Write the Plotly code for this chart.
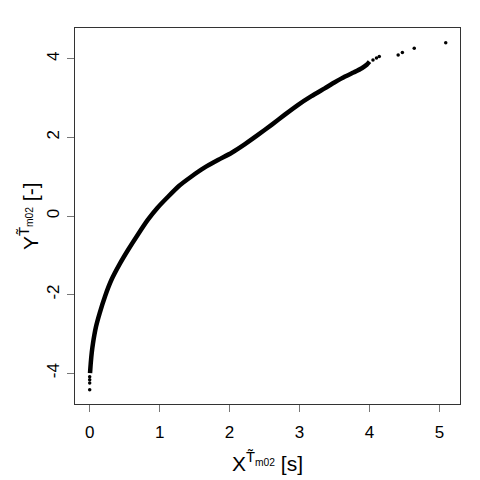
import plotly.graph_objects as go

# dense part of the quantile curve
curve_x = [0.005, 0.015, 0.03, 0.047, 0.09, 0.143, 0.22, 0.31, 0.43, 0.55, 0.69, 0.83,
           0.97, 1.12, 1.28, 1.45, 1.64, 1.84, 2.03, 2.22, 2.41, 2.60, 2.79, 2.98,
           3.17, 3.36, 3.51, 3.65, 3.78, 3.89, 3.96, 4.0]
curve_y = [-4.0, -3.75, -3.47, -3.24, -2.82, -2.47, -2.04, -1.63, -1.22, -0.86, -0.47, -0.10,
           0.21, 0.49, 0.77, 1.0, 1.23, 1.43, 1.61, 1.83, 2.07, 2.32, 2.58, 2.83,
           3.05, 3.25, 3.41, 3.55, 3.66, 3.76, 3.85, 3.93]

# isolated points at both ends
tail_x = [0.0, 0.0, 0.0, 0.0, 4.05, 4.10, 4.14, 4.41, 4.47, 4.64, 5.09]
tail_y = [-4.42, -4.25, -4.17, -4.09, 3.97, 4.02, 4.06, 4.10, 4.16, 4.27, 4.41]

x_ticks = [0, 1, 2, 3, 4, 5]
y_ticks = [-4, -2, 0, 2, 4]
y_ticktext = ["-4", "-2", "0", "2", "4"]

x_title = "X<sup>T\u0303<sub>m02</sub></sup> [s]"
y_title = "Y<sup>T\u0303<sub>m02</sub></sup> [-]"

font = "Liberation Sans, Arial, Helvetica, sans-serif"

fig = go.Figure()

fig.add_trace(go.Scatter(
    x=curve_x, y=curve_y, mode='lines',
    line=dict(color='black', width=4.5, shape='spline', smoothing=0.6),
    showlegend=False, hoverinfo='skip'
))
fig.add_trace(go.Scatter(
    x=tail_x, y=tail_y, mode='markers',
    marker=dict(color='black', size=3.5, symbol='circle'),
    showlegend=False
))

axis_common = dict(
    showgrid=False, zeroline=False, automargin=False,
    showline=True, linecolor='#333333', linewidth=1, mirror=True,
    ticks='outside', ticklen=7, tickcolor='#777777', tickwidth=1,
    tickfont=dict(family=font, size=17, color='black'),
)

# the page adds an 8px body margin, so the figure margins are shifted for it
fig.update_layout(
    width=480, height=480,
    margin=dict(l=67, r=28, t=20, b=84),
    paper_bgcolor='white', plot_bgcolor='white',
    font=dict(family=font, color='black'),
    xaxis=dict(range=[-0.21, 5.294], tickvals=x_ticks, ticklabelstandoff=6, **axis_common),
    yaxis=dict(range=[-4.785, 4.785], tickvals=y_ticks, ticktext=y_ticktext,
               tickangle=-90, ticklabelstandoff=1, **axis_common),
    annotations=[
        dict(text=x_title, xref='paper', yref='paper', x=0.5, y=0,
             xanchor='center', yanchor='middle', yshift=-58, showarrow=False,
             font=dict(family=font, size=21)),
        dict(text=y_title, xref='paper', yref='paper', x=0, y=0.5,
             xanchor='center', yanchor='middle', xshift=-46, textangle=-90,
             showarrow=False, font=dict(family=font, size=21)),
    ],
)

fig.write_html("out.html")
